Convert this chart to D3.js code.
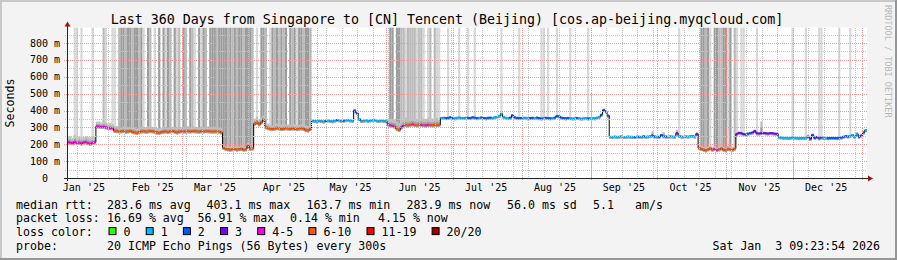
<!DOCTYPE html>
<html>
<head>
<meta charset="utf-8">
<script src="https://cdn.jsdelivr.net/npm/d3@7"></script>
<style>
  html, body { margin: 0; padding: 0; background: #f3f3f3; }
  svg { display: block; }
  text { font-family: "DejaVu Sans Mono", monospace; white-space: pre; }
</style>
</head>
<body>
<svg id="chart" width="897" height="260"></svg>
<script>
// ---- data: one value per day, 360 days ending Sat Jan 3 2026 ----
const medianMs = [
  212,210,206,214,208,210,204,211,213,207,202,209,212,306,305,303,304,300,298,296,
  294,280,278,276,277,278,275,276,279,274,270,268,272,276,277,275,276,278,277,275,
  270,268,272,275,276,274,276,278,275,270,275,277,276,275,277,276,278,277,276,275,
  277,276,278,277,276,275,276,277,275,270,178,172,170,168,170,172,169,171,173,168,
  170,190,174,175,322,328,318,330,345,300,295,292,290,293,295,294,290,292,295,293,
  291,294,292,290,293,294,292,284,282,290,340,338,336,340,337,335,339,341,338,336,
  340,344,342,338,340,343,345,341,339,400,385,350,338,340,342,339,341,343,345,340,
  338,341,339,337,318,312,310,305,290,285,300,310,314,312,316,318,314,312,316,315,
  313,312,315,314,312,316,314,315,356,358,355,357,360,356,354,357,359,356,355,358,
  357,356,360,358,355,357,359,356,354,357,358,356,360,362,368,380,362,357,355,358,
  372,360,357,355,356,358,357,354,355,357,356,358,355,353,356,357,355,354,356,358,
  368,365,358,355,354,356,355,353,354,356,355,352,354,355,353,356,355,354,358,362,
  375,403,395,370,245,243,246,244,245,247,243,244,246,245,244,243,246,245,244,247,
  245,246,248,252,246,245,244,255,247,246,245,247,246,245,266,250,246,245,247,246,
  248,250,246,262,178,172,168,164,170,175,168,172,166,170,175,168,165,172,170,168,
  174,262,268,265,260,258,263,266,270,278,265,264,266,267,265,264,266,265,263,262,
  242,240,238,239,237,238,240,239,238,236,238,237,239,245,232,255,238,242,235,240,
  238,237,236,237,238,237,236,238,240,245,248,246,250,255,242,262,245,252,270,284
];

// index into lossColors
const lossIdx = [
  4,4,4,4,4,4,4,4,4,4,4,4,4,4,4,4,4,4,4,4,
  4,5,5,5,5,5,5,5,5,5,5,5,5,5,5,5,5,5,5,5,
  5,5,5,5,5,5,5,5,5,5,5,5,5,5,5,5,5,5,5,5,
  5,5,5,5,5,5,5,5,5,5,5,5,5,5,5,5,5,5,5,5,
  5,4,5,5,5,5,5,5,5,5,5,5,5,5,5,5,5,5,5,5,
  5,5,5,5,5,5,5,5,5,5,1,1,1,1,1,1,2,1,1,1,
  1,2,1,1,2,1,1,1,1,2,2,1,1,1,1,1,1,1,1,1,
  1,1,1,1,4,4,4,5,5,5,4,4,5,5,5,4,5,5,5,4,
  5,4,4,5,5,5,5,5,1,1,2,2,2,2,1,1,1,1,1,1,
  2,2,2,2,2,1,2,2,2,2,2,1,1,1,1,1,1,1,1,2,
  2,2,2,2,2,1,1,1,2,2,1,2,2,2,1,2,2,2,1,2,
  2,2,2,2,2,2,1,1,1,2,1,1,1,1,2,1,1,1,1,1,
  2,2,2,2,1,1,1,1,1,1,1,1,1,1,1,2,1,2,1,2,
  1,1,1,2,2,1,2,2,1,2,1,1,1,1,3,1,1,1,1,1,
  1,1,1,3,5,5,5,5,5,5,5,4,4,5,5,5,5,5,5,5,
  5,3,3,3,3,2,2,2,3,3,3,3,3,3,3,3,3,3,3,3,
  1,1,1,1,1,1,1,1,1,1,1,1,1,2,3,2,2,3,2,2,
  1,1,2,2,2,2,2,2,2,2,2,2,1,1,1,1,2,2,2,1
];

// smoke above the median, ms
const smokeMs = [
  35,38,32,40,34,36,38,33,35,37,40,36,34,28,30,26,32,28,25,30,
  26,28,30,25,22,28,30,26,24,28,30,26,25,28,24,26,30,28,25,24,
  26,28,24,30,26,25,28,24,26,30,28,24,26,28,30,25,24,28,26,25,
  28,26,24,28,26,30,28,25,24,28,18,16,15,18,16,15,17,16,18,15,
  16,20,15,16,30,35,28,30,25,26,28,24,22,26,28,24,26,25,22,24,
  26,24,28,25,22,26,24,28,26,20,4,4,5,4,4,5,4,4,5,4,
  4,5,4,4,5,4,4,5,4,8,6,4,4,5,4,4,5,4,4,5,
  4,4,5,4,30,40,38,42,45,40,36,42,44,38,40,45,42,38,40,44,
  40,38,42,36,40,38,42,30,4,5,4,4,5,4,4,5,4,4,5,4,
  4,5,4,4,5,4,4,5,4,4,5,4,4,5,4,8,4,4,5,4,
  6,4,4,5,4,4,5,4,4,5,4,4,5,4,4,5,4,4,5,4,
  5,4,4,5,4,4,5,4,4,5,4,4,5,4,4,5,4,4,5,4,
  6,8,6,5,4,4,5,4,4,5,4,4,5,4,4,5,4,4,5,4,
  4,5,4,25,5,4,4,8,25,4,5,4,4,5,20,4,4,5,4,4,
  4,5,4,6,15,18,16,15,18,16,15,18,16,15,18,16,15,18,16,15,
  10,8,6,8,7,8,6,8,6,10,8,6,70,8,6,8,6,8,6,8,
  5,4,5,4,5,4,5,4,5,4,5,4,5,12,14,10,12,8,10,6,
  5,4,5,4,5,4,5,4,5,4,5,4,5,4,5,10,8,12,10,6
];

// tall smoke bars reaching the top: 0 none, 1 light, 2 mid, 3 dark
const tallSmoke = [
  0,0,0,1,1,0,1,0,0,0,0,1,0,0,0,0,2,1,0,0,
  1,1,0,2,3,3,2,3,3,2,3,3,2,3,1,0,3,2,0,1,
  0,3,0,3,1,3,2,0,3,1,2,0,3,2,0,3,2,1,0,3,
  1,3,2,0,3,3,3,2,3,3,3,3,2,3,2,3,2,3,3,2,
  3,3,3,2,0,1,0,3,3,2,0,1,3,2,3,2,3,2,3,0,
  3,2,3,1,3,3,2,3,3,2,0,0,0,0,0,0,0,0,0,0,
  0,0,0,0,0,0,0,0,0,0,0,0,0,0,0,0,0,0,0,0,
  0,0,0,0,0,3,3,0,3,3,2,2,1,2,2,2,2,1,2,2,
  1,0,1,2,0,2,1,1,0,0,0,1,0,0,0,0,1,0,0,0,
  1,0,0,1,0,0,0,0,0,0,0,0,0,0,0,1,0,0,0,0,
  0,0,0,1,0,0,0,0,0,0,0,0,0,1,1,0,1,0,0,0,
  1,0,0,0,0,0,1,0,0,0,0,0,0,0,1,0,0,0,0,0,
  0,0,0,0,0,0,0,0,0,0,0,0,0,0,0,0,0,0,0,0,
  0,0,0,0,0,0,0,0,0,0,0,0,0,0,0,1,0,0,0,0,
  0,0,0,0,0,3,3,2,3,1,0,3,3,2,2,3,3,1,3,0,
  2,1,0,1,1,0,0,0,0,0,1,0,0,0,0,0,0,0,0,0,
  0,0,0,0,0,0,1,0,0,0,0,0,1,0,0,0,0,0,1,1,
  0,0,0,0,0,0,0,1,0,0,0,0,1,0,0,0,0,0,0,0
];

const lossLabels = ["0", "1", "2", "3", "4-5", "6-10", "11-19", "20/20"];
const lossColors = ["#26ff00", "#00b8ff", "#0059ff", "#7e00ff", "#ff00ea", "#ff5500", "#ff0000", "#a10000"];
const smokeShades = [null, "#d8d8d8", "#bababa", "#9c9c9c"];

const yMajorTicks = [0, 100, 200, 300, 400, 500, 600, 700, 800];
const yMinorTicks = [50, 150, 250, 350, 450, 550, 650, 750, 850];

const titleText = "Last 360 Days from Singapore to [CN] Tencent (Beijing) [cos.ap-beijing.myqcloud.com]";
const rttRow = ["283.6 ms avg", "403.1 ms max", "163.7 ms min", "283.9 ms now", "56.0 ms sd", "5.1", "am/s"];
const lossRow = ["16.69 % avg", "56.91 % max", "0.14 % min", "4.15 % now"];
const probeText = "20 ICMP Echo Pings (56 Bytes) every 300s";
const stampText = "Sat Jan  3 09:23:54 2026";

// ---- layout ----
const width = 897, height = 260;
const plot = {left: 67, right: 867, top: 27.5, bottom: 178};

const endTime = new Date(Date.UTC(2026, 0, 3, 9, 23, 54));
const startTime = new Date(+endTime - 360 * 864e5);
const dayStart = i => new Date(+startTime + i * 864e5);

const x = d3.scaleTime().domain([startTime, endTime]).range([plot.left, plot.right]);
const y = d3.scaleLinear().domain([0, 892]).range([plot.bottom, plot.top]);

const svg = d3.select("#chart");

// background and 3d frame
svg.append("rect").attr("width", width).attr("height", height).attr("fill", "#f3f3f3");
svg.append("rect").attr("x", 0).attr("y", 0).attr("width", width).attr("height", 2).attr("fill", "#c8c8c8");
svg.append("rect").attr("x", 0).attr("y", 0).attr("width", 2).attr("height", height).attr("fill", "#c8c8c8");
svg.append("rect").attr("x", 0).attr("y", height - 2).attr("width", width).attr("height", 2).attr("fill", "#969696");
svg.append("rect").attr("x", width - 2).attr("y", 0).attr("width", 2).attr("height", height).attr("fill", "#969696");

svg.append("rect")
  .attr("x", plot.left).attr("y", plot.top)
  .attr("width", plot.right - plot.left).attr("height", plot.bottom - plot.top)
  .attr("fill", "#ffffff");

svg.append("clipPath").attr("id", "clip")
  .append("rect")
  .attr("x", plot.left).attr("y", plot.top)
  .attr("width", plot.right - plot.left).attr("height", plot.bottom - plot.top);

const days = d3.range(medianMs.length);
const g = svg.append("g").attr("clip-path", "url(#clip)");

// tall bars
g.append("g").selectAll("rect")
  .data(days.filter(i => tallSmoke[i] > 0))
  .join("rect")
  .attr("x", i => x(dayStart(i)))
  .attr("width", i => x(dayStart(i + 1)) - x(dayStart(i)))
  .attr("y", plot.top)
  .attr("height", i => y(medianMs[i]) - plot.top)
  .attr("fill", i => smokeShades[tallSmoke[i]]);

// smoke band around median
g.append("g").selectAll("rect")
  .data(days)
  .join("rect")
  .attr("x", i => x(dayStart(i)))
  .attr("width", i => x(dayStart(i + 1)) - x(dayStart(i)))
  .attr("y", i => y(medianMs[i] + smokeMs[i]))
  .attr("height", i => y(medianMs[i]) - y(medianMs[i] + smokeMs[i]) + 2)
  .attr("fill", "#c0c0c0");
g.append("g").selectAll("rect")
  .data(days)
  .join("rect")
  .attr("x", i => x(dayStart(i)))
  .attr("width", i => x(dayStart(i + 1)) - x(dayStart(i)))
  .attr("y", i => y(medianMs[i] + smokeMs[i] * 0.45))
  .attr("height", i => y(medianMs[i]) - y(medianMs[i] + smokeMs[i] * 0.45) + 2)
  .attr("fill", "#9e9e9e");

// median line (black step) with loss coloured segments
const stepPts = days.map(i => [x(dayStart(i)), y(medianMs[i])]);
stepPts.push([x(dayStart(days.length)), y(medianMs[days.length - 1])]);
g.append("path")
  .attr("d", d3.line().curve(d3.curveStepAfter)(stepPts))
  .attr("fill", "none")
  .attr("stroke", "#000")
  .attr("stroke-width", 1);

g.append("g").selectAll("rect")
  .data(days)
  .join("rect")
  .attr("x", i => x(dayStart(i)))
  .attr("width", i => x(dayStart(i + 1)) - x(dayStart(i)))
  .attr("y", i => y(medianMs[i]) - 1)
  .attr("height", 2)
  .attr("fill", i => lossColors[lossIdx[i]]);

// grid (drawn over the data, like rrdtool)
const grid = svg.append("g").attr("shape-rendering", "crispEdges");
const mondays = d3.utcMonday.range(startTime, endTime);
const months = d3.utcMonth.range(startTime, endTime);

grid.selectAll("line.vmin").data(mondays).join("line")
  .attr("x1", d => Math.round(x(d)) + 0.5).attr("x2", d => Math.round(x(d)) + 0.5)
  .attr("y1", plot.top).attr("y2", plot.bottom + 2)
  .attr("stroke", "#c4c4c4").attr("stroke-dasharray", "1,1");
grid.selectAll("line.hmin").data(yMinorTicks).join("line")
  .attr("x1", plot.left - 2).attr("x2", plot.right)
  .attr("y1", d => Math.round(y(d)) + 0.5).attr("y2", d => Math.round(y(d)) + 0.5)
  .attr("stroke", "#c4c4c4").attr("stroke-dasharray", "1,1");
grid.selectAll("line.vmaj").data(months).join("line")
  .attr("x1", d => Math.round(x(d)) + 0.5).attr("x2", d => Math.round(x(d)) + 0.5)
  .attr("y1", plot.top).attr("y2", plot.bottom + 3)
  .attr("stroke", "#ee9a9a").attr("stroke-dasharray", "1,1");
grid.selectAll("line.hmaj").data(yMajorTicks.slice(1)).join("line")
  .attr("x1", plot.left - 3).attr("x2", plot.right)
  .attr("y1", d => Math.round(y(d)) + 0.5).attr("y2", d => Math.round(y(d)) + 0.5)
  .attr("stroke", "#ee9a9a").attr("stroke-dasharray", "1,1");

// axes with arrows
svg.append("line")
  .attr("x1", plot.left - 3).attr("x2", plot.right + 2)
  .attr("y1", plot.bottom + 0.5).attr("y2", plot.bottom + 0.5)
  .attr("stroke", "#222");
svg.append("line")
  .attr("x1", plot.left + 0.5).attr("x2", plot.left + 0.5)
  .attr("y1", plot.bottom + 3).attr("y2", plot.top - 3)
  .attr("stroke", "#222");
svg.append("path")
  .attr("d", `M${plot.right + 1},${plot.bottom - 2.5}L${plot.right + 6},${plot.bottom + 0.5}L${plot.right + 1},${plot.bottom + 3.5}Z`)
  .attr("fill", "#a11");
svg.append("path")
  .attr("d", `M${plot.left - 2.5},${plot.top - 1}L${plot.left + 0.5},${plot.top - 6}L${plot.left + 3.5},${plot.top - 1}Z`)
  .attr("fill", "#a11");

// axis labels
svg.append("g").selectAll("text")
  .data(yMajorTicks)
  .join("text")
  .attr("x", 60)
  .attr("y", d => y(d) + 3.6)
  .attr("text-anchor", "end")
  .attr("font-size", "10px")
  .attr("fill", "#000")
  .text(d => d === 0 ? "0  " : d + " m");

// month labels sit mid-month
const monthFmt = d3.utcFormat("%b '%y");
const labelMonths = d3.utcMonth.range(d3.utcMonth.floor(startTime), endTime);
svg.append("g").selectAll("text")
  .data(labelMonths.filter(m => {
    const c = x(d3.utcDay.offset(m, 15));
    return c > plot.left && c < plot.right;
  }))
  .join("text")
  .attr("x", m => x(d3.utcDay.offset(m, 15)))
  .attr("y", 191)
  .attr("text-anchor", "middle")
  .attr("font-size", "10px")
  .attr("fill", "#000")
  .text(m => monthFmt(m));

svg.append("text")
  .attr("transform", "translate(13.5,103) rotate(-90)")
  .attr("text-anchor", "middle")
  .attr("font-size", "11.6px")
  .text("Seconds");

svg.append("text")
  .attr("transform", "translate(884.5,5) rotate(90)")
  .attr("font-size", "8.5px")
  .attr("fill", "#b8b8b8")
  .text("RRDTOOL / TOBI OETIKER");

svg.append("text")
  .attr("x", 447).attr("y", 24)
  .attr("text-anchor", "middle")
  .attr("font-size", "13.3px")
  .text(titleText);

// legend
const lg = svg.append("g").attr("font-size", "11.6px").attr("fill", "#000");
const rowY = [208.5, 222.3, 236.1, 250];
const rttX = [107, 206.5, 306.5, 406.5, 507, 593, 635];
const lossX = [107, 197.5, 290, 378];

lg.append("text").attr("x", 16).attr("y", rowY[0]).text("median rtt:");
rttRow.forEach((t, i) => lg.append("text").attr("x", rttX[i]).attr("y", rowY[0]).text(t));

lg.append("text").attr("x", 16).attr("y", rowY[1]).text("packet loss:");
lossRow.forEach((t, i) => lg.append("text").attr("x", lossX[i]).attr("y", rowY[1]).text(t));

lg.append("text").attr("x", 16).attr("y", rowY[2]).text("loss color:");
let bx = 108.5;
lossLabels.forEach((lab, i) => {
  lg.append("rect")
    .attr("x", bx + 0.5).attr("y", rowY[2] - 8.5)
    .attr("width", 7).attr("height", 7)
    .attr("fill", lossColors[i]).attr("stroke", "#000").attr("stroke-width", 1);
  const t = lg.append("text").attr("x", bx + 15).attr("y", rowY[2]).text(lab);
  bx = bx + 15 + t.node().getComputedTextLength() + 15.2;
});

lg.append("text").attr("x", 16).attr("y", rowY[3]).text("probe:");
lg.append("text").attr("x", 107).attr("y", rowY[3]).text(probeText);
lg.append("text").attr("x", 880).attr("y", rowY[3]).attr("text-anchor", "end").text(stampText);
</script>
</body>
</html>
